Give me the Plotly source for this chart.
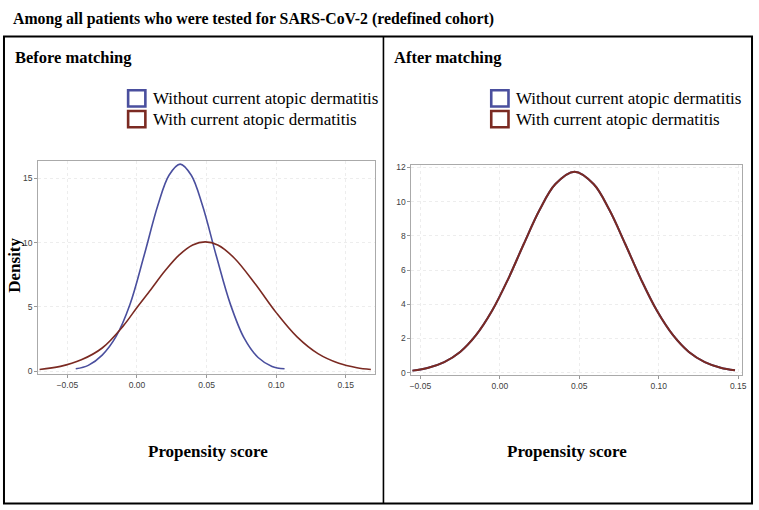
import plotly.graph_objects as go

# ---- data ----
before_without_x = [-0.044, -0.035, -0.025, -0.015, -0.005, 0.005, 0.015, 0.023, 0.031,
                    0.039, 0.047, 0.057, 0.067, 0.077, 0.087, 0.097, 0.106]
before_without_y = [0.18, 0.45, 1.25, 2.70, 5.20, 8.95, 12.89, 15.23, 16.1,
                    15.23, 12.89, 8.95, 5.23, 2.56, 1.06, 0.37, 0.18]

before_with_x = [-0.070, -0.055, -0.040, -0.025, -0.010, 0.000, 0.010, 0.020, 0.030, 0.040,
                 0.049, 0.058, 0.070, 0.085, 0.100, 0.115, 0.130, 0.145, 0.158, 0.168]
before_with_y = [0.13, 0.37, 0.88, 1.80, 3.50, 4.95, 6.35, 7.78, 9.00, 9.81,
                 10.05, 9.81, 8.78, 6.77, 4.55, 2.66, 1.36, 0.61, 0.27, 0.13]

after_with_x = [-0.055, -0.045, -0.035, -0.025, -0.015, -0.005, 0.005, 0.015, 0.025, 0.035, 0.047,
                0.059, 0.069, 0.079, 0.089, 0.099, 0.109, 0.119, 0.129, 0.139, 0.148]
after_with_y = [0.12, 0.29, 0.62, 1.21, 2.19, 3.60, 5.43, 7.51, 9.51, 11.03, 11.75,
                11.03, 9.51, 7.51, 5.43, 3.60, 2.19, 1.21, 0.62, 0.29, 0.14]
# after matching the "without" curve lies exactly under the "with" curve
after_without_x = list(after_with_x)
after_without_y = list(after_with_y)

series_names = ["Without current atopic dermatitis", "With current atopic dermatitis"]
panel_titles = ["Before matching", "After matching"]
main_title = "Among all patients who were tested for SARS-CoV-2 (redefined cohort)"
x_title = "Propensity score"
y_title = "Density"
x_ticks = [-0.05, 0.00, 0.05, 0.10, 0.15]
y_ticks_left = [0, 5, 10, 15]
y_ticks_right = [0, 2, 4, 6, 8, 10, 12]

BLUE = "#4a4f9e"
RED = "#7b2a22"
W, H = 759, 510

def px(x):
    return x / W

def py(y):
    return 1 - y / H

fig = go.Figure()
fig.add_trace(go.Scatter(x=before_without_x, y=before_without_y, mode="lines",
                         line=dict(color=BLUE, width=1.6, shape="spline", smoothing=1),
                         xaxis="x", yaxis="y", showlegend=False))
fig.add_trace(go.Scatter(x=before_with_x, y=before_with_y, mode="lines",
                         line=dict(color=RED, width=1.6, shape="spline", smoothing=1),
                         xaxis="x", yaxis="y", showlegend=False))
fig.add_trace(go.Scatter(x=after_without_x, y=after_without_y, mode="lines",
                         line=dict(color=BLUE, width=2, shape="spline", smoothing=1),
                         xaxis="x2", yaxis="y2", showlegend=False))
fig.add_trace(go.Scatter(x=after_with_x, y=after_with_y, mode="lines",
                         line=dict(color=RED, width=2, shape="spline", smoothing=1),
                         xaxis="x2", yaxis="y2", showlegend=False))

tickfont = dict(family="Liberation Sans, Arial, sans-serif", size=8.5, color="#404040")
common = dict(showline=True, linecolor="#aaaaaa", linewidth=1, mirror=True,
              showgrid=True, gridcolor="#ededed", griddash="dot", gridwidth=1,
              zeroline=False, ticks="outside", ticklen=3, tickcolor="#999999",
              tickfont=tickfont)

fig.update_layout(
    width=W, height=H, margin=dict(l=0, r=0, t=0, b=0),
    paper_bgcolor="white", plot_bgcolor="white",
    xaxis=dict(domain=[px(36.5), px(376.5)], range=[-0.071, 0.171], anchor="y",
               tickvals=x_ticks, tickformat=".2f", **common),
    yaxis=dict(domain=[py(375), py(160)], range=[-0.19, 16.33], anchor="x",
               tickvals=y_ticks_left, **common),
    xaxis2=dict(domain=[px(413.3), px(746.7)], range=[-0.0556, 0.1523], anchor="y2",
                tickvals=x_ticks, tickformat=".2f", **common),
    yaxis2=dict(domain=[py(376.5), py(164)], range=[-0.14, 12.14], anchor="x2",
                tickvals=y_ticks_right, **common),
)

serif = "Liberation Serif, Times New Roman, serif"
ann = []
ann.append(dict(x=px(9), y=py(16), xref="paper", yref="paper", xanchor="left", yanchor="middle",
                text="<b>" + main_title + "</b>", showarrow=False,
                font=dict(family=serif, size=15.8, color="black")))
for i, (x0, title) in enumerate(zip([11.5, 393.5], panel_titles)):
    ann.append(dict(x=px(x0), y=py(55), xref="paper", yref="paper", xanchor="left", yanchor="middle",
                    text="<b>" + title + "</b>", showarrow=False,
                    font=dict(family=serif, size=16.5, color="black")))
for xc in [207.5, 570]:
    ann.append(dict(x=px(xc), y=py(454), xref="paper", yref="paper", xanchor="center", yanchor="middle",
                    text="<b>" + x_title + "</b>", showarrow=False,
                    font=dict(family=serif, size=17, color="black")))
ann.append(dict(x=px(13), y=py(265), xref="paper", yref="paper", xanchor="center", yanchor="middle",
                text="<b>" + y_title + "</b>", showarrow=False, textangle=-90,
                font=dict(family=serif, size=17, color="black")))

shapes = []
# legends
for sq_x, tx in [(126, 150), (492.5, 517)]:
    for j, (name, col) in enumerate(zip(series_names, [BLUE, RED])):
        yc = 96.5 + j * 21
        shapes.append(dict(type="rect", xref="paper", yref="paper",
                           x0=px(sq_x + 1.3), x1=px(sq_x + 18.7), y0=py(yc + 8.2), y1=py(yc - 8.2),
                           line=dict(color=col, width=2.6), fillcolor="rgba(0,0,0,0)"))
        ann.append(dict(x=px(tx), y=py(yc), xref="paper", yref="paper", xanchor="left", yanchor="middle",
                        text=name, showarrow=False,
                        font=dict(family=serif, size=17, color="black")))

# outer frame and divider
shapes.append(dict(type="rect", xref="paper", yref="paper", x0=px(2), x1=px(757), y0=py(506.5), y1=py(34),
                   line=dict(color="black", width=2)))
shapes.append(dict(type="line", xref="paper", yref="paper", x0=px(385), x1=px(385), y0=py(506.5), y1=py(34),
                   line=dict(color="black", width=1.6)))

fig.update_layout(annotations=ann, shapes=shapes)
fig.write_html("out.html", config={"displayModeBar": False},
               post_script="document.body.style.margin='0';document.body.style.padding='0';")
